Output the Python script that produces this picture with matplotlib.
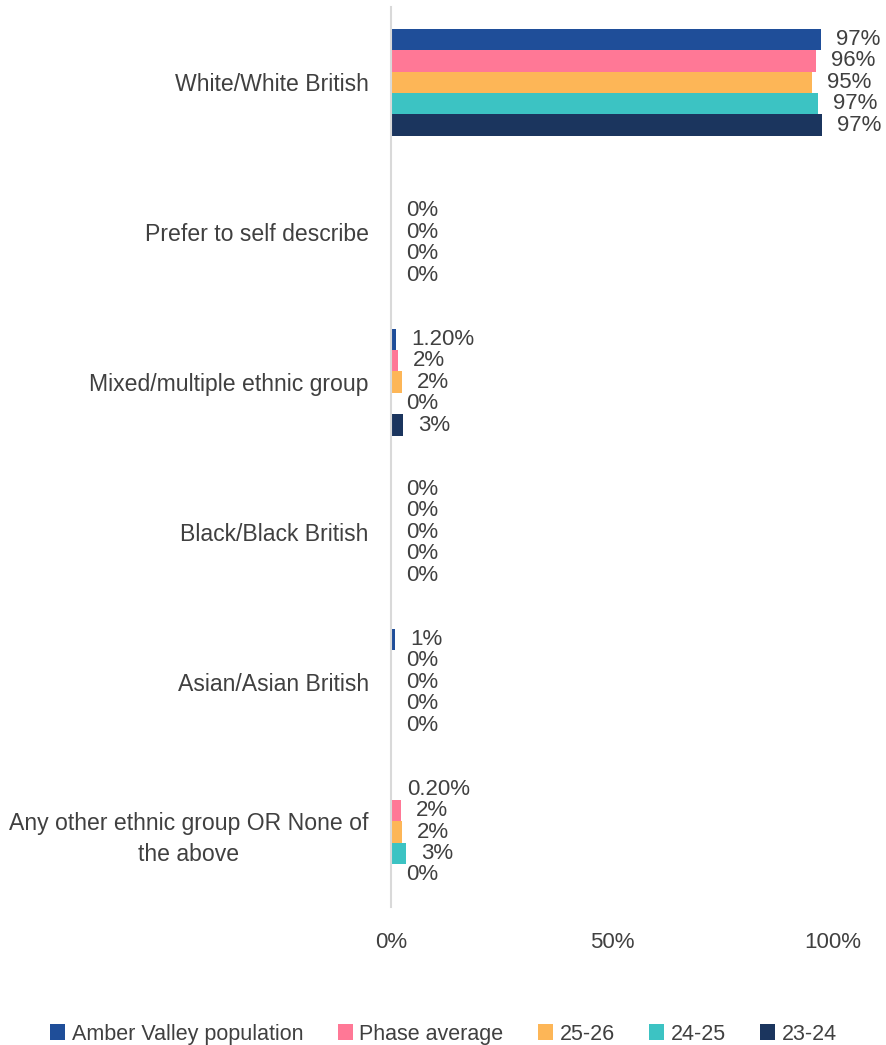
import numpy as np
import matplotlib
matplotlib.use('Agg')
import matplotlib.pyplot as plt

categories = ["White/White British", "Prefer to self describe",
              "Mixed/multiple ethnic group", "Black/Black British",
              "Asian/Asian British", "Any other ethnic group OR None of\nthe above"]
series = ["Amber Valley population", "Phase average", "25-26", "24-25", "23-24"]

amber_valley = [97.3, np.nan, 1.1, 0.0, 0.9, 0.2]
phase_avg = [96.2, 0.0, 1.6, 0.0, 0.0, 2.2]
y2526 = [95.2, 0.0, 2.5, 0.0, 0.0, 2.4]
y2425 = [96.6, 0.0, 0.0, 0.0, 0.0, 3.4]
y2324 = [97.5, 0.0, 2.7, 0.0, 0.0, 0.0]

amber_labels = ["97%", "", "1.20%", "0%", "1%", "0.20%"]
phase_labels = ["96%", "0%", "2%", "0%", "0%", "2%"]
l2526 = ["95%", "0%", "2%", "0%", "0%", "2%"]
l2425 = ["97%", "0%", "0%", "0%", "0%", "3%"]
l2324 = ["97%", "0%", "3%", "0%", "0%", "0%"]

colors = ["#1F4E99", "#FF7896", "#FDB657", "#3CC3C3", "#1B355E"]

plt.rcParams['font.family'] = ['Liberation Sans', 'DejaVu Sans']
fig = plt.figure(figsize=(8.87, 10.45), dpi=100)
ax = fig.add_axes([0.4408, 0.132, 0.4983, 0.861])

values = [amber_valley, phase_avg, y2526, y2425, y2324]
labels = [amber_labels, phase_labels, l2526, l2425, l2324]
h = 0.143
y = np.arange(len(categories))
for j, (vals, labs) in enumerate(zip(values, labels)):
    pos = y + (j - 2) * h
    v = np.array(vals, dtype=float)
    ax.barh(pos, np.nan_to_num(v), height=h, color=colors[j], label=series[j])
    for p, val, lab in zip(pos, v, labs):
        if lab == "":
            continue
        ax.annotate(lab, (val, p), xytext=(11, 0), textcoords='offset points',
                    va='center', ha='left', fontsize=16, color='#404040')

ax.set_ylim(len(categories) - 0.5, -0.5)
ax.set_xlim(0, 100)
ax.set_yticks(y)
ax.set_yticklabels(categories, fontsize=16.6, color='#404040')
for t in ax.get_yticklabels():
    t.set_multialignment('center')
    t.set_linespacing(1.45)
ax.set_xticks([0, 50, 100])
ax.set_xticklabels(["0%", "50%", "100%"], fontsize=16, color='#404040')
ax.tick_params(axis='both', length=0)
ax.tick_params(axis='x', pad=18)
ax.tick_params(axis='y', pad=16)
for s in ['top', 'right', 'bottom']:
    ax.spines[s].set_visible(False)
ax.spines['left'].set_color('#D9D9D9')
ax.spines['left'].set_linewidth(1.5)

fig.legend(loc='center', bbox_to_anchor=(0.5, 0.0105), ncol=5, frameon=False,
           fontsize=15.5, handlelength=0.7, handleheight=0.7, handletextpad=0.3,
           columnspacing=1.6, labelcolor='#404040')

plt.savefig("out.png", dpi=100)
